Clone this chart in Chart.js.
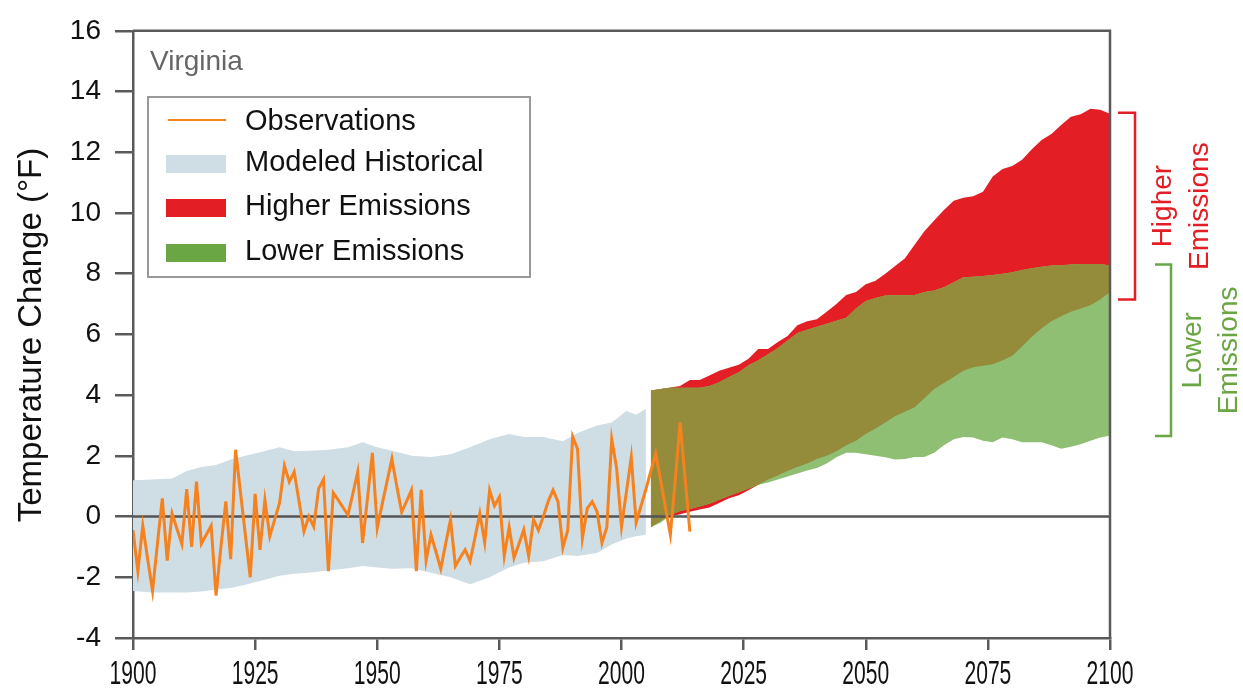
<!DOCTYPE html>
<html>
<head>
<meta charset="utf-8">
<script src="https://cdn.jsdelivr.net/npm/chart.js@4.4.1/dist/chart.umd.min.js"></script>
<style>
  html, body { margin: 0; padding: 0; background: #fff; }
  #wrap { width: 1243px; height: 691px; }
</style>
</head>
<body>
<div id="wrap"><canvas id="tempChart" width="1243" height="691"></canvas></div>
<script>
// Observed annual temperature change (°F), 1900-2014
const obsStartYear = 1900;
const observations = [
  -0.45, -1.8, -0.3, -1.4, -2.45, -0.9, 0.6, -1.45, 0.1, -0.4,
  -0.9, 0.9, -1.0, 1.15, -0.9, -0.6, -0.3, -2.6, -1.0, 0.5,
  -1.4, 2.2, 0.8, -0.6, -2.0, 0.75, -1.1, 0.55, -0.65, -0.1,
  0.45, 1.68, 1.14, 1.47, 0.5, -0.49, 0.0, -0.33, 0.92, 1.22,
  -1.8, 0.78, 0.55, 0.3, 0.05, 0.75, 1.47, -0.87, 0.6, 2.1,
  -0.38, 0.4, 1.15, 1.9, 1.0, 0.15, 0.5, 0.87, -1.8, 0.88,
  -1.45, -0.6, -1.15, -1.72, -0.9, -0.1, -1.63, -1.35, -1.09, -1.47,
  -0.7, 0.1, -0.85, 0.87, 0.35, 0.65, -1.3, -0.35, -1.36, -0.9,
  -0.43, -1.3, -0.1, -0.45, 0.0, 0.5, 0.87, 0.49, -1.03, -0.45,
  2.63, 2.23, -0.71, 0.27, 0.49, 0.16, -0.87, -0.35, 2.55, 1.6,
  -0.33, 0.8, 1.96, -0.2, 0.35, 0.9, 1.5, 2.07, 1.2, 0.3,
  -0.6, 1.2, 3.1, 1.3, -0.5
];
const obsYears = observations.map((v, i) => obsStartYear + i);

// Modeled historical range
const histYears = [1900, 1904, 1908, 1911, 1914, 1917, 1920, 1923, 1926, 1930, 1933, 1936, 1940, 1944, 1947, 1950,
  1953, 1957, 1961, 1965, 1969, 1973, 1977, 1980, 1984, 1988, 1991, 1995, 1998, 2001, 2003, 2005];
const histUpper = [1.2, 1.22, 1.25, 1.5, 1.63, 1.7, 1.88, 2.0, 2.12, 2.28, 2.15, 2.17, 2.2, 2.28, 2.45, 2.28,
  2.17, 2.0, 1.96, 2.05, 2.28, 2.55, 2.72, 2.62, 2.62, 2.48, 2.75, 3.0, 3.1, 3.48, 3.35, 3.55];
const histLower = [-2.45, -2.5, -2.5, -2.5, -2.47, -2.4, -2.35, -2.25, -2.12, -1.95, -1.88, -1.85, -1.78, -1.7, -1.63, -1.68,
  -1.72, -1.7, -1.85, -2.0, -2.23, -2.0, -1.68, -1.52, -1.47, -1.27, -1.3, -1.2, -0.92, -0.72, -0.65, -0.6];

// Projections
const projYears = [2006, 2008, 2010, 2012, 2014, 2016, 2018, 2020, 2022, 2024, 2026, 2028, 2030, 2032, 2034, 2036,
  2038, 2040, 2042, 2044, 2046, 2048, 2050, 2052, 2054, 2056, 2058, 2060, 2062, 2064, 2066, 2068,
  2070, 2072, 2074, 2076, 2078, 2080, 2082, 2084, 2086, 2088, 2090, 2092, 2094, 2096, 2098, 2100];
const higherUpper = [4.15, 4.2, 4.25, 4.3, 4.5, 4.5, 4.65, 4.8, 4.9, 5.0, 5.2, 5.52, 5.52, 5.75, 5.95, 6.3,
  6.43, 6.5, 6.75, 7.0, 7.3, 7.4, 7.65, 7.77, 8.0, 8.25, 8.5, 8.95, 9.4, 9.75, 10.1, 10.4,
  10.5, 10.55, 10.7, 11.2, 11.45, 11.55, 11.75, 12.1, 12.4, 12.6, 12.9, 13.17, 13.25, 13.43, 13.4, 13.27];
const higherLower = [-0.35, -0.15, 0.0, 0.08, 0.16, 0.23, 0.3, 0.45, 0.6, 0.7, 0.87, 1.05, 1.22, 1.35, 1.5, 1.63,
  1.75, 1.9, 2.0, 2.15, 2.35, 2.5, 2.72, 2.9, 3.1, 3.3, 3.45, 3.6, 3.9, 4.2, 4.4, 4.6,
  4.8, 4.92, 4.97, 5.02, 5.15, 5.3, 5.6, 5.92, 6.2, 6.43, 6.6, 6.75, 6.85, 6.96, 7.15, 7.4];
const lowerUpper = [4.15, 4.2, 4.24, 4.24, 4.24, 4.24, 4.3, 4.42, 4.6, 4.75, 4.98, 5.15, 5.35, 5.55, 5.8, 6.05,
  6.15, 6.25, 6.35, 6.45, 6.55, 6.85, 7.1, 7.2, 7.28, 7.29, 7.29, 7.3, 7.4, 7.45, 7.55, 7.72,
  7.88, 7.9, 7.92, 7.96, 8.0, 8.05, 8.12, 8.18, 8.23, 8.27, 8.28, 8.3, 8.32, 8.32, 8.32, 8.27];
const lowerLower = [-0.35, -0.2, 0.05, 0.18, 0.25, 0.33, 0.42, 0.55, 0.68, 0.8, 0.92, 1.05, 1.12, 1.22, 1.32, 1.42,
  1.52, 1.6, 1.75, 1.95, 2.1, 2.1, 2.05, 2.0, 1.95, 1.88, 1.9, 1.96, 1.96, 2.1, 2.35, 2.55,
  2.62, 2.6, 2.5, 2.45, 2.6, 2.55, 2.45, 2.45, 2.45, 2.35, 2.23, 2.3, 2.38, 2.5, 2.6, 2.66];

// Bracket ranges on the right (°F)
const higherRange = [7.15, 13.3];
const lowerRange = [2.65, 8.3];

const xTicks = [1900, 1925, 1950, 1975, 2000, 2025, 2050, 2075, 2100];

const colors = {
  obs: '#f5821f',
  hist: '#cfdde5',
  higher: '#e31e24',
  lower: '#8fbf73',
  lowerKey: '#6aa643',
  both: '#958c3b',
  axis: '#5a5a5a'
};
const FONT = '"Liberation Sans", Arial, sans-serif';

const pts = (xs, ys) => xs.map((x, i) => ({ x: x, y: ys[i] }));
const bothLower = higherLower.map((v, i) => Math.max(v, lowerLower[i]));
const bothUpper = higherUpper.map((v, i) => Math.min(v, lowerUpper[i]));

function band(label, xs, lo, hi, color, order) {
  return [
    { label: label + ' low', data: pts(xs, lo), borderWidth: 0, pointRadius: 0, fill: false, order: order },
    { label: label, data: pts(xs, hi), borderWidth: 0, pointRadius: 0, fill: '-1', backgroundColor: color, order: order }
  ];
}

// Draws frame, zero line, labels, legend and right-hand brackets
const extras = {
  id: 'extras',
  beforeDatasetDraw(chart, args) {
    if (chart.data.datasets[args.index].label !== 'Observations') return;
    const { ctx, chartArea } = chart;
    const y0 = chart.scales.y.getPixelForValue(0);
    ctx.save();
    ctx.strokeStyle = '#555';
    ctx.lineWidth = 2.5;
    ctx.beginPath();
    ctx.moveTo(chartArea.left, y0);
    ctx.lineTo(chartArea.right, y0);
    ctx.stroke();
    ctx.restore();
  },
  afterDraw(chart) {
    const { ctx, chartArea } = chart;
    const xs = chart.scales.x, ys = chart.scales.y;
    ctx.save();

    // top and right frame
    ctx.strokeStyle = colors.axis;
    ctx.lineWidth = 2.5;
    ctx.beginPath();
    ctx.moveTo(chartArea.left, chartArea.top);
    ctx.lineTo(chartArea.right, chartArea.top);
    ctx.lineTo(chartArea.right, chartArea.bottom);
    ctx.stroke();

    // x tick labels (narrow)
    ctx.fillStyle = '#111';
    ctx.font = '34px ' + FONT;
    ctx.textAlign = 'center';
    ctx.textBaseline = 'middle';
    xTicks.forEach(t => {
      ctx.save();
      ctx.translate(xs.getPixelForValue(t), 675);
      ctx.scale(0.62, 1);
      ctx.fillText(String(t), 0, 0);
      ctx.restore();
    });

    // y title
    ctx.save();
    ctx.translate(32, 335);
    ctx.rotate(-Math.PI / 2);
    ctx.font = '33px ' + FONT;
    ctx.fillStyle = '#111';
    ctx.fillText('Temperature Change (°F)', 0, 0);
    ctx.restore();

    // state name
    ctx.textAlign = 'left';
    ctx.font = '28px ' + FONT;
    ctx.fillStyle = '#666';
    ctx.fillText('Virginia', 150, 62);

    // legend box
    ctx.strokeStyle = '#999';
    ctx.lineWidth = 2;
    ctx.strokeRect(148, 97, 382, 180);
    const rows = [
      { text: 'Observations', y: 122, type: 'line', color: colors.obs },
      { text: 'Modeled Historical', y: 163, color: colors.hist },
      { text: 'Higher Emissions', y: 207, color: colors.higher },
      { text: 'Lower Emissions', y: 252, color: colors.lowerKey }
    ];
    ctx.font = '29px ' + FONT;
    rows.forEach(r => {
      if (r.type === 'line') {
        ctx.strokeStyle = r.color;
        ctx.lineWidth = 2;
        ctx.beginPath();
        ctx.moveTo(168, r.y - 2);
        ctx.lineTo(226, r.y - 2);
        ctx.stroke();
      } else {
        ctx.fillStyle = r.color;
        ctx.fillRect(166, r.y - 8, 60, 18);
      }
      ctx.fillStyle = '#111';
      ctx.fillText(r.text, 245, r.y);
    });

    // right-hand brackets
    const bracket = (range, x0, x1, color, lines, textX) => {
      const yTop = ys.getPixelForValue(range[1]);
      const yBot = ys.getPixelForValue(range[0]);
      ctx.strokeStyle = color;
      ctx.lineWidth = 2.5;
      ctx.beginPath();
      ctx.moveTo(x0, yTop);
      ctx.lineTo(x1, yTop);
      ctx.lineTo(x1, yBot);
      ctx.lineTo(x0, yBot);
      ctx.stroke();
      ctx.fillStyle = color;
      ctx.font = '28px ' + FONT;
      ctx.textAlign = 'center';
      lines.forEach((s, i) => {
        ctx.save();
        ctx.translate(textX[i], (yTop + yBot) / 2);
        ctx.rotate(-Math.PI / 2);
        ctx.fillText(s, 0, 0);
        ctx.restore();
      });
    };
    bracket(higherRange, 1118, 1135, colors.higher, ['Higher', 'Emissions'], [1163, 1200]);
    bracket(lowerRange, 1155, 1171, colors.lowerKey, ['Lower', 'Emissions'], [1193, 1229]);

    ctx.restore();
  }
};

function generateChart() {
  const ctx = document.getElementById('tempChart').getContext('2d');
  new Chart(ctx, {
    type: 'line',
    data: {
      datasets: [
        {
          label: 'Observations',
          data: pts(obsYears, observations),
          borderColor: colors.obs,
          borderWidth: 3,
          pointRadius: 0,
          tension: 0,
          fill: false,
          order: 0
        },
        ...band('Both', projYears, bothLower, bothUpper, colors.both, 1),
        ...band('Lower Emissions', projYears, lowerLower, lowerUpper, colors.lower, 2),
        ...band('Higher Emissions', projYears, higherLower, higherUpper, colors.higher, 3),
        ...band('Modeled Historical', histYears, histLower, histUpper, colors.hist, 4)
      ]
    },
    options: {
      responsive: false,
      animation: false,
      layout: { padding: { top: 27, right: 133, left: 0, bottom: 0 } },
      plugins: { legend: { display: false }, tooltip: { enabled: false } },
      scales: {
        x: {
          type: 'linear',
          min: 1900,
          max: 2100,
          ticks: { stepSize: 25, display: false },
          grid: { drawOnChartArea: false, drawTicks: true, tickLength: 12, color: colors.axis, lineWidth: 2.5 },
          border: { display: true, color: colors.axis, width: 2.5 },
          afterFit: s => { s.height = 53; }
        },
        y: {
          min: -4,
          max: 16,
          ticks: { stepSize: 2, padding: 14, color: '#111', font: { size: 28, family: FONT } },
          grid: { drawOnChartArea: false, drawTicks: true, tickLength: 18, color: colors.axis, lineWidth: 2.5 },
          border: { display: true, color: colors.axis, width: 2.5 },
          afterFit: s => { s.width = 133; }
        }
      }
    },
    plugins: [extras]
  });
}

generateChart();
</script>
</body>
</html>
